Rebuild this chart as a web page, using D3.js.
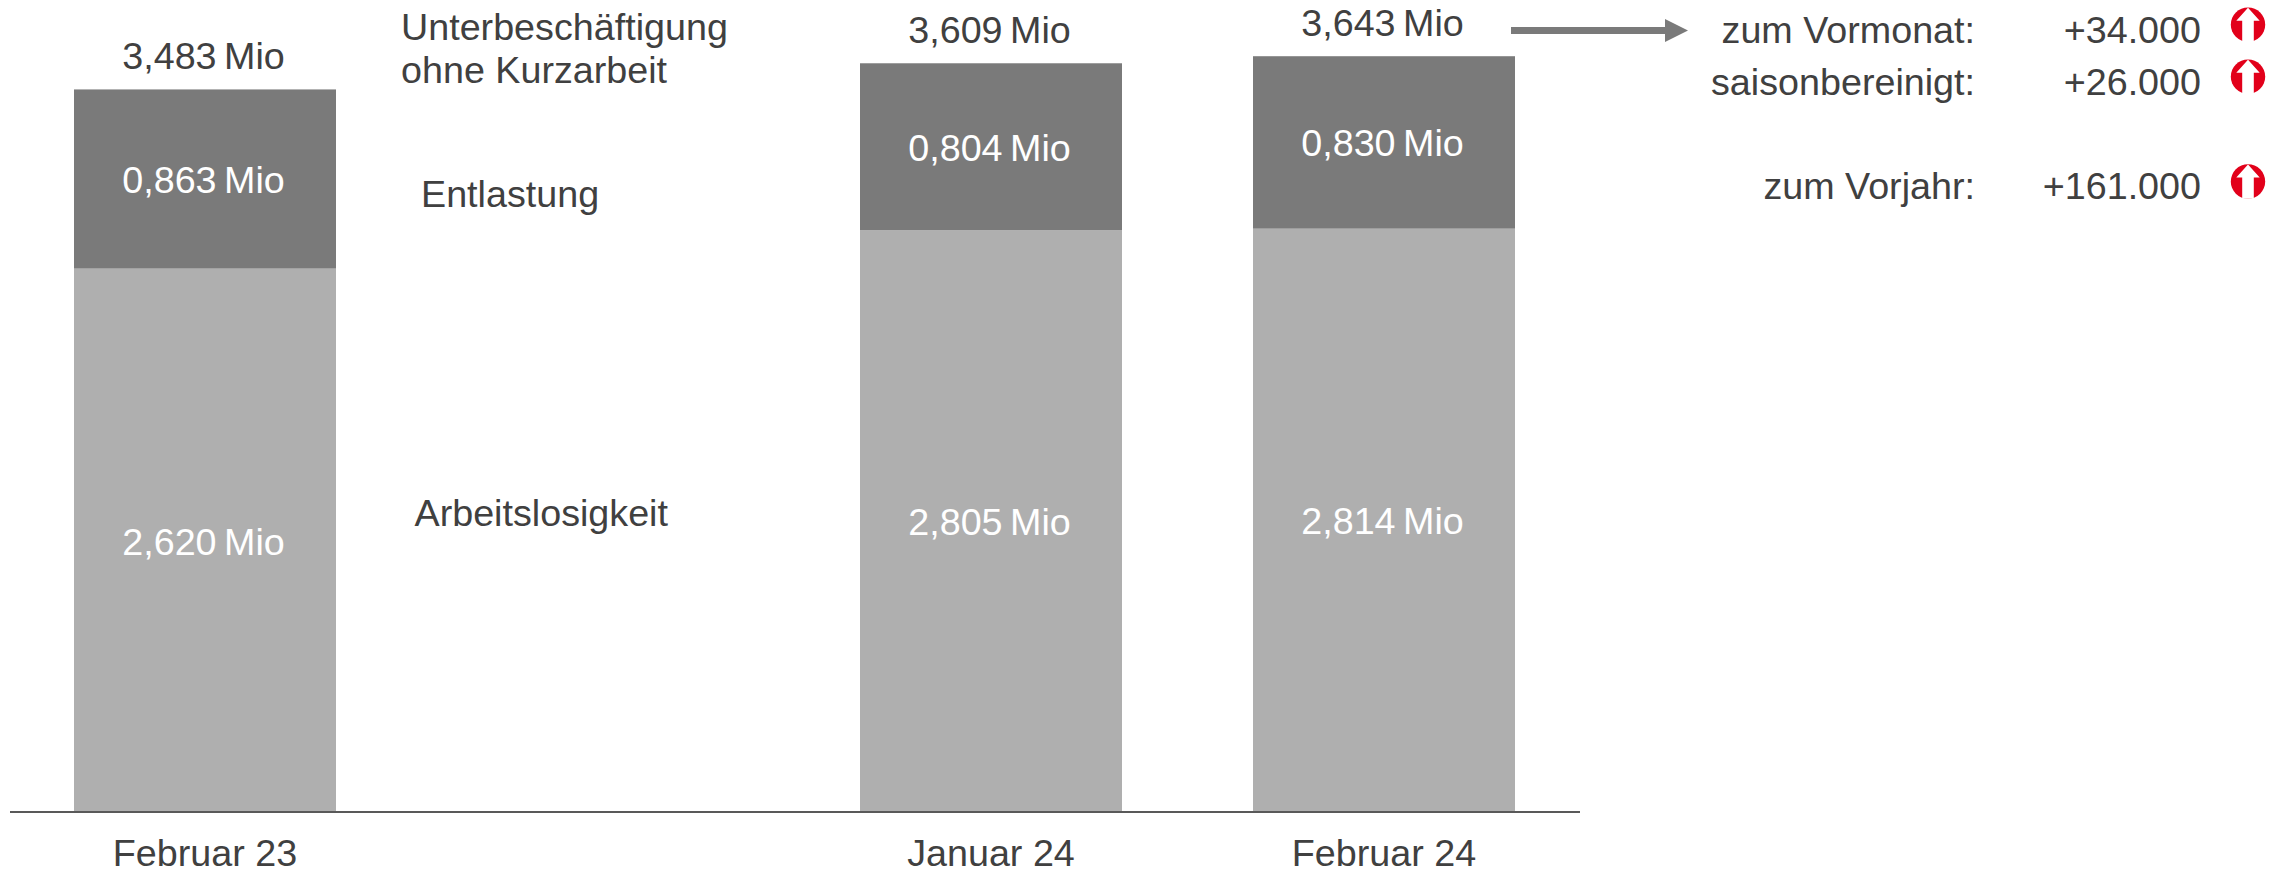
<!DOCTYPE html>
<html lang="de"><head><meta charset="utf-8">
<script src="https://cdn.jsdelivr.net/npm/d3@7"></script>
<style>html,body{margin:0;background:#fff}svg{display:block}text{font-family:"Liberation Sans",Arial,sans-serif;font-size:37.7px;fill:#404040}</style>
</head><body><div id="c"></div>
<script>
const categories = ["Februar 23", "", "Januar 24", "Februar 24"];
const arbeitslosigkeit = [2.620, null, 2.805, 2.814];
const entlastung = [0.863, null, 0.804, 0.830];
const gesamt = [3.483, null, 3.609, 3.643];
const deltaLabels = ["zum Vormonat:", "saisonbereinigt:", "zum Vorjahr:"];
const deltaValues = ["+34.000", "+26.000", "+161.000"];

const W = 2289, H = 874;
const svg = d3.select("#c").append("svg").attr("width", W).attr("height", H);
const x = d3.scaleBand().domain(categories).range([8.5, 1580.5]).paddingInner(1/3).paddingOuter(1/6);
const y = d3.scaleLinear().domain([0, 4]).range([812.5, -17.9]);
const fmt = v => d3.format(".3f")(v).replace(".", ",") + " Mio";
const rows = categories.map((c, i) => ({c, a: arbeitslosigkeit[i], e: entlastung[i], t: gesamt[i]})).filter(d => d.a !== null);

svg.selectAll("rect.a").data(rows).join("rect").attr("class", "a")
  .attr("x", d => x(d.c)).attr("width", x.bandwidth())
  .attr("y", d => y(d.a)).attr("height", d => y(0) - y(d.a)).attr("fill", "#afafaf");
svg.selectAll("rect.e").data(rows).join("rect").attr("class", "e")
  .attr("x", d => x(d.c)).attr("width", x.bandwidth())
  .attr("y", d => y(d.t)).attr("height", d => y(d.t - d.e) - y(d.t)).attr("fill", "#7a7a7a");

const cx = d => x(d.c) + x.bandwidth() / 2 - 1.5;
svg.selectAll("text.t").data(rows).join("text").attr("text-anchor", "middle").attr("word-spacing", -3)
  .attr("x", cx).attr("y", d => y(d.t) - 20.5).text(d => fmt(d.t));
svg.selectAll("text.e").data(rows).join("text").attr("text-anchor", "middle").attr("word-spacing", -3).style("fill", "#fff")
  .attr("x", cx).attr("y", d => y(d.t - d.e / 2) + 14).text(d => fmt(d.e));
svg.selectAll("text.a").data(rows).join("text").attr("text-anchor", "middle").attr("word-spacing", -3).style("fill", "#fff")
  .attr("x", cx).attr("y", d => y(d.a / 2) + 14).text(d => fmt(d.a));

const axis = svg.append("g").attr("transform", `translate(0,812)`)
  .call(d3.axisBottom(x).tickSize(0).tickPadding(0));
axis.select(".domain").attr("d", "M10,0H1580").attr("stroke", "#595959").attr("stroke-width", 2);
axis.selectAll("text").attr("dy", null).attr("y", 53.5);
axis.attr("font-size", null).attr("font-family", null);

const seriesLabels = [["Unterbeschäftigung", 401, 40], ["ohne Kurzarbeit", 401, 83], ["Entlastung", 421, 207], ["Arbeitslosigkeit", 414.5, 526]];
svg.selectAll("text.s").data(seriesLabels).join("text").attr("x", d => d[1]).attr("y", d => d[2]).text(d => d[0]);

// arrow
svg.append("path").attr("fill", "#7a7a7a").attr("d", "M1511,27H1665V19L1688,30.5L1665,42V34H1511Z");

const deltaY = [43, 94.5, 199], iconY = [24.7, 76.7, 181.5];
deltaLabels.forEach((l, i) => {
  svg.append("text").attr("text-anchor", "end").attr("x", 1975).attr("y", deltaY[i]).text(l);
  svg.append("text").attr("text-anchor", "end").attr("x", 2201).attr("y", deltaY[i]).text(deltaValues[i]);
  const g = svg.append("g").attr("transform", `translate(2248,${iconY[i]})`);
  g.append("circle").attr("r", 17.2).attr("fill", "#e2001a");
  g.append("path").attr("fill", "#fff").attr("d", "M0,-17L11.7,-4H5.8V17.2H-5.8V-4H-11.7Z");
});
</script></body></html>
